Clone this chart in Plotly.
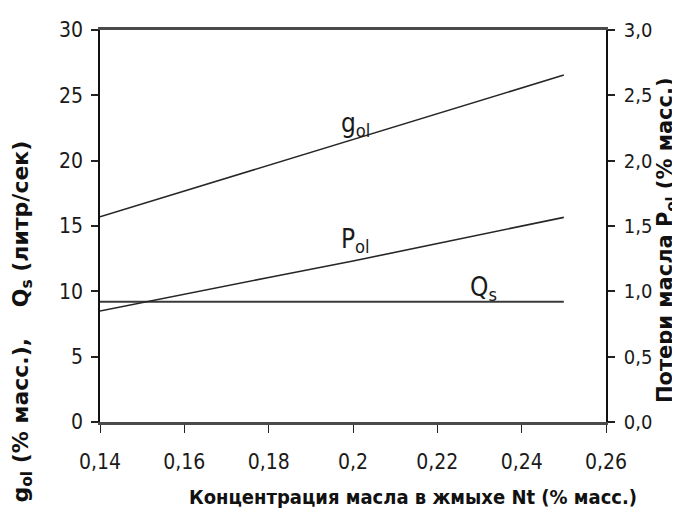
import plotly.graph_objects as go

# Data
nt = [0.14, 0.16, 0.18, 0.20, 0.22, 0.24, 0.25]
g_ol = [15.7, 17.67, 19.64, 21.6, 23.6, 25.57, 26.55]      # left axis (% масс.)
q_s = [9.2, 9.2, 9.2, 9.2, 9.2, 9.2, 9.2]                  # left axis (литр/сек)
p_ol = [0.849, 0.980, 1.106, 1.232, 1.364, 1.497, 1.566]   # right axis (% масс.)

x_ticks = [0.14, 0.16, 0.18, 0.20, 0.22, 0.24, 0.26]
x_tick_labels = ["0,14", "0,16", "0,18", "0,2", "0,22", "0,24", "0,26"]
y_ticks = [0, 5, 10, 15, 20, 25, 30]
y2_ticks = [0.0, 0.5, 1.0, 1.5, 2.0, 2.5, 3.0]
y2_tick_labels = ["0,0", "0,5", "1,0", "1,5", "2,0", "2,5", "3,0"]

NARROW = "Liberation Sans Narrow, Arial Narrow, DejaVu Sans Condensed, Liberation Sans, sans-serif"
WIDE = "DejaVu Sans, Liberation Sans, sans-serif"

fig = go.Figure()
fig.add_trace(go.Scatter(x=nt, y=g_ol, mode="lines", line=dict(color="#262626", width=1.6),
                         showlegend=False, hoverinfo="skip"))
fig.add_trace(go.Scatter(x=nt, y=q_s, mode="lines", line=dict(color="#3a3a3a", width=2),
                         showlegend=False, hoverinfo="skip"))
fig.add_trace(go.Scatter(x=nt, y=p_ol, mode="lines", line=dict(color="#262626", width=1.6),
                         showlegend=False, hoverinfo="skip", yaxis="y2"))

tickfont = dict(family=NARROW, size=21, color="#1a1a1a")

fig.update_layout(
    width=680, height=514,
    margin=dict(l=92, r=82, t=22, b=100, autoexpand=False),
    paper_bgcolor="white", plot_bgcolor="white",
    xaxis=dict(range=[0.14, 0.26], tickvals=x_ticks, ticktext=x_tick_labels,
               showgrid=False, zeroline=False, showline=True, linecolor="#4a4a4a", linewidth=3,
               mirror=True, ticks="outside", ticklen=8, tickwidth=1.2, tickcolor="#222",
               tickfont=tickfont, ticklabelstandoff=11),
    yaxis=dict(range=[0, 30], tickvals=y_ticks, showgrid=False, zeroline=False,
               showline=True, linecolor="#111", linewidth=1.5, ticks="outside", ticklen=7,
               tickwidth=1.5, tickcolor="#222", tickfont=tickfont, ticklabelstandoff=4),
    yaxis2=dict(range=[0, 3], tickvals=y2_ticks, ticktext=y2_tick_labels, overlaying="y",
                side="right", showgrid=False, zeroline=False, showline=True, linecolor="#111",
                linewidth=1.5, ticks="outside", ticklen=7, tickwidth=1.5, tickcolor="#222",
                tickfont=dict(family=NARROW, size=20, color="#1a1a1a"), ticklabelstandoff=5),
    annotations=[
        dict(text="<b>g<sub>ol</sub> (% масс.),&nbsp;&nbsp;&nbsp; Q<sub>s</sub> (литр/сек)</b>",
             xref="paper", yref="paper", x=-0.155, y=0.255, xanchor="center", yanchor="middle",
             textangle=-90, showarrow=False,
             font=dict(family=WIDE, size=22, color="#111")),
        dict(text="<b>Потери масла P<sub>ol</sub> (% масс.)</b>", xref="paper", yref="paper",
             x=1.1186, y=0.464, xanchor="center", yanchor="middle", textangle=-90, showarrow=False,
             font=dict(family=WIDE, size=21, color="#111")),
        dict(text="<b>Концентрация масла в жмыхе Nt (% масс.)</b>", xref="paper", yref="paper",
             x=0.619, y=-0.191, xanchor="center", yanchor="middle", showarrow=False,
             font=dict(family=NARROW, size=20, color="#111")),
        dict(text="g<sub>ol</sub>", xref="x", yref="y", x=0.2005, y=22.8, showarrow=False,
             xanchor="center", yanchor="middle",
             font=dict(family=NARROW, size=26, color="#1a1a1a")),
        dict(text="P<sub>ol</sub>", xref="x", yref="y", x=0.2005, y=13.9, showarrow=False,
             xanchor="center", yanchor="middle",
             font=dict(family=NARROW, size=26, color="#1a1a1a")),
        dict(text="Q<sub>s</sub>", xref="x", yref="y", x=0.231, y=10.2, showarrow=False,
             xanchor="center", yanchor="middle",
             font=dict(family=NARROW, size=26, color="#1a1a1a")),
    ],
)

fig.write_html("out.html")
